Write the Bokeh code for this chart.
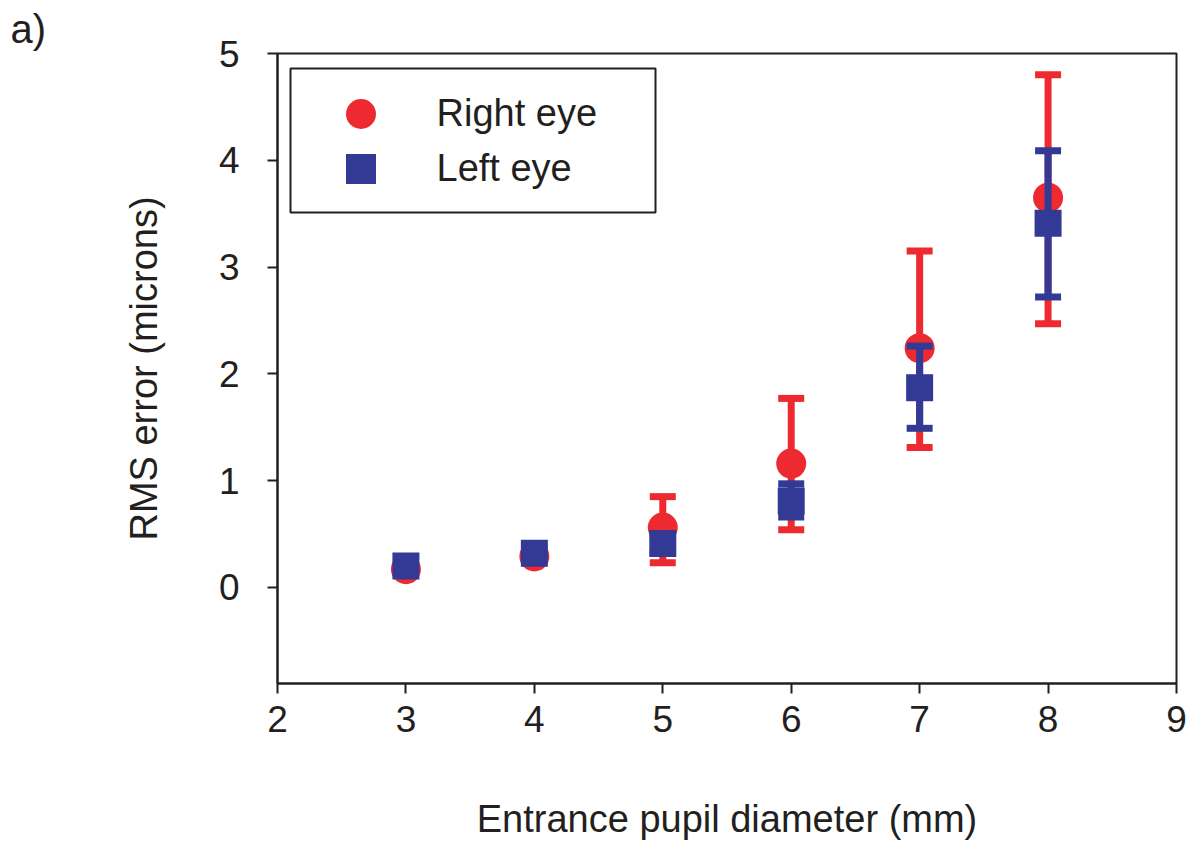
from bokeh.plotting import figure
from bokeh.models import (ColumnDataSource, FixedTicker, Range1d, Legend, LegendItem,
                          BoxAnnotation, Title)
from bokeh.embed import file_html
from bokeh.resources import INLINE

# ---- data ----
diameters = [3, 4, 5, 6, 7, 8]
right_mean = [0.17, 0.29, 0.56, 1.16, 2.24, 3.65]
right_lower = [0.13, 0.25, 0.23, 0.54, 1.31, 2.47]
right_upper = [0.21, 0.33, 0.85, 1.77, 3.15, 4.80]
left_mean = [0.20, 0.32, 0.41, 0.81, 1.87, 3.41]
left_lower = [0.16, 0.28, 0.33, 0.66, 1.49, 2.72]
left_upper = [0.24, 0.36, 0.49, 0.97, 2.26, 4.09]
x_ticks = [2, 3, 4, 5, 6, 7, 8, 9]
y_ticks = [0, 1, 2, 3, 4, 5]

RED = "#EC2A2F"
BLUE = "#323A96"
INK = "#231F20"
FONT = "Liberation Sans"

W, H = 1188, 842
FL, FT, FR, FB = 277, 53, 1176, 683  # frame edges on the page
p = figure(width=W, height=H, output_backend="svg", toolbar_location=None,
           x_range=Range1d(2, 9), y_range=Range1d(-0.9, 5),
           min_border_left=FL, min_border_right=W - FR,
           min_border_top=FT, min_border_bottom=H - FB,
           background_fill_color="white", border_fill_color="white")
p.grid.visible = False
p.outline_line_color = INK
p.outline_line_width = 2
p.outline_line_alpha = 1.0

rsrc = ColumnDataSource(dict(x=diameters, y=right_mean, lo=right_lower, hi=right_upper))
lsrc = ColumnDataSource(dict(x=diameters, y=left_mean, lo=left_lower, hi=left_upper))

def errbars(src, color):
    p.segment(x0="x", y0="lo", x1="x", y1="hi", source=src, line_color=color, line_width=7)
    p.scatter(x="x", y="hi", source=src, marker="dash", size=26, line_color=color, line_width=7)
    p.scatter(x="x", y="lo", source=src, marker="dash", size=26, line_color=color, line_width=7)

errbars(rsrc, RED)
r_right = p.scatter(x="x", y="y", source=rsrc, marker="circle", size=30, fill_color=RED,
                    line_color=None)
errbars(lsrc, BLUE)
r_left = p.scatter(x="x", y="y", source=lsrc, marker="square", size=27, fill_color=BLUE,
                   line_color=None)

# axes
for ax in (p.xaxis[0], p.yaxis[0]):
    ax.axis_line_color = INK
    ax.axis_line_width = 2
    ax.major_tick_line_color = INK
    ax.major_tick_line_width = 2
    ax.major_tick_out = 10
    ax.major_tick_in = 0
    ax.minor_tick_line_color = None
    ax.major_label_text_font = FONT
    ax.major_label_text_font_size = "37px"
    ax.major_label_text_color = INK
    ax.axis_label_text_font = FONT
    ax.axis_label_text_font_size = "38px"
    ax.axis_label_text_font_style = "normal"
    ax.axis_label_text_color = INK

p.xaxis.ticker = FixedTicker(ticks=x_ticks)
p.yaxis.ticker = FixedTicker(ticks=y_ticks)
p.xaxis.axis_label = "Entrance pupil diameter (mm)"
p.yaxis.axis_label = "RMS error (microns)"
p.xaxis.major_label_standoff = 12
p.xaxis.axis_label_standoff = 63
p.yaxis.major_label_standoff = 28
p.yaxis.axis_label_standoff = 51

# legend frame (screen px relative to plot frame)
fh = FB - FT
p.add_layout(BoxAnnotation(left=290 - FL, right=655 - FL, top=fh - (68 - FT), bottom=fh - (212 - FT),
                           left_units="screen", right_units="screen",
                           top_units="screen", bottom_units="screen",
                           fill_color="white", fill_alpha=1.0,
                           line_color=INK, line_width=2, line_alpha=1.0))

def one_item_legend(label, renderer, cy):
    g = 75
    lg = Legend(items=[LegendItem(label=label, renderers=[renderer])],
                location=(360 - g / 2 - FL, FB - (cy + g / 2)),
                padding=0, margin=0, spacing=0,
                glyph_width=g, glyph_height=g, label_height=g,
                label_standoff=int(437 - (360 + g / 2)),
                label_text_font=FONT, label_text_font_size="38px",
                label_text_color=INK,
                border_line_color=None, background_fill_alpha=0.0)
    p.add_layout(lg)

one_item_legend("Right eye", r_right, 113)
one_item_legend("Left eye", r_left, 168)

# panel label
t = Title(text="a)", align="left", offset=-(FL - 10), standoff=6,
          text_font=FONT, text_font_size="40px", text_font_style="normal",
          text_color=INK, vertical_align="bottom")
p.add_layout(t, "above")

open("out.html", "w").write(file_html(p, INLINE))
